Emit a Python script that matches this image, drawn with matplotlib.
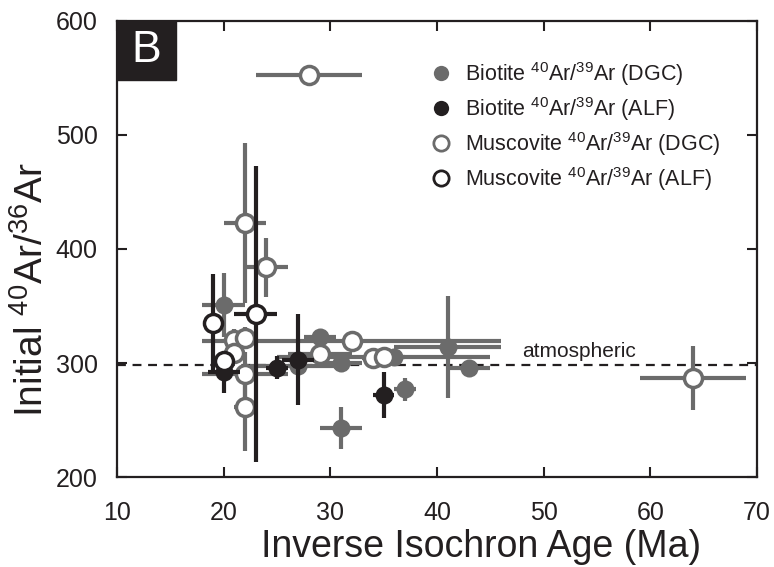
import matplotlib
matplotlib.use('Agg')
from matplotlib import pyplot as plt
from matplotlib.lines import Line2D
from matplotlib.patches import Rectangle

plt.rcParams['font.family'] = ['Liberation Sans', 'DejaVu Sans']
plt.rcParams['mathtext.fontset'] = 'custom'
plt.rcParams['mathtext.rm'] = 'Liberation Sans'
plt.rcParams['mathtext.it'] = 'Liberation Sans:italic'
plt.rcParams['mathtext.bf'] = 'Liberation Sans:bold'

gray = '#6b6b6b'
black = '#231f20'

# biotite 40Ar/39Ar (DGC)
bio_dgc_x = [20, 29, 31, 31, 36, 37, 41, 43, 27]
bio_dgc_y = [351, 323, 300, 243, 305, 277, 314, 296, 297]
bio_dgc_xerr = [2, 1.5, 2, 2, 1, 1, 5, 2, 4.5]
bio_dgc_yerr = [28, 5, 5, 18, 5, 10, 45, 3, 5]

# biotite 40Ar/39Ar (ALF)
bio_alf_x = [20, 25, 27, 35]
bio_alf_y = [292, 296, 303, 272]
bio_alf_xerr = [1.5, 1, 1.5, 1]
bio_alf_yerr = [18, 10, 40, 20]

# muscovite 40Ar/39Ar (DGC)
mus_dgc_x = [28, 22, 24, 21, 22, 21, 22, 22, 29, 32, 34, 35, 64]
mus_dgc_y = [553, 423, 384, 320, 322, 309, 290, 261, 308, 319, 304, 305, 287]
mus_dgc_xerr = [5, 2, 2, 1, 1, 1, 4, 1, 3, 14, 1, 10, 5]
mus_dgc_yerr = [0, 70, 26, 10, 10, 10, 20, 38, 5, 8, 5, 8, 28]

# muscovite 40Ar/39Ar (ALF)
mus_alf_x = [19, 20, 23]
mus_alf_y = [335, 302, 343]
mus_alf_xerr = [0.5, 0.5, 2]
mus_alf_yerr = [43, 8, 130]

atm = 298.5

fig = plt.figure(figsize=(7.74, 5.67), dpi=100)
ax = fig.add_axes([0.1512, 0.1587, 0.8268, 0.8043])

ax.axhline(atm, color=black, lw=1.6, ls=(0, (4, 3)), zorder=1)
ax.text(48, atm + 3, 'atmospheric', fontsize=15, color=black, va='bottom')

ms = 13
ax.errorbar(bio_dgc_x, bio_dgc_y, xerr=bio_dgc_xerr, yerr=bio_dgc_yerr, fmt='o',
            color=gray, ms=ms, mew=0, elinewidth=3, capsize=0, zorder=2)
ax.errorbar(mus_dgc_x, mus_dgc_y, xerr=mus_dgc_xerr, yerr=mus_dgc_yerr, fmt='o',
            color=gray, mfc='white', mec=gray, ms=ms, mew=2.5, elinewidth=3, capsize=0, zorder=3)
ax.errorbar(bio_alf_x, bio_alf_y, xerr=bio_alf_xerr, yerr=bio_alf_yerr, fmt='o',
            color=black, ms=ms, mew=0, elinewidth=3, capsize=0, zorder=4)
ax.errorbar(mus_alf_x, mus_alf_y, xerr=mus_alf_xerr, yerr=mus_alf_yerr, fmt='o',
            color=black, mfc='white', mec=black, ms=ms, mew=2.5, elinewidth=3, capsize=0, zorder=5)

ax.set_xlim(10, 70)
ax.set_ylim(200, 600)
ax.set_xticks([10, 20, 30, 40, 50, 60, 70])
ax.set_yticks([200, 300, 400, 500, 600])
ax.tick_params(direction='in', length=7, width=1.5, labelsize=18, top=True, right=True,
               colors=black)
ax.tick_params(axis='x', pad=17)
ax.tick_params(axis='y', pad=14)
for s in ax.spines.values():
    s.set_linewidth(1.6)
    s.set_color(black)

ax.set_xlabel('Inverse Isochron Age (Ma)', fontsize=27, color=black)
ax.xaxis.set_label_coords(0.569, -0.115)
ax.set_ylabel(r'Initial $^{\mathrm{40}}$Ar/$^{\mathrm{36}}$Ar', fontsize=28, color=black)
ax.yaxis.set_label_coords(-0.103, 0.41)

# panel letter
ax.add_patch(Rectangle((0, 0.871), 0.092, 0.129, transform=ax.transAxes,
                       color=black, zorder=10, clip_on=False))
ax.text(0.046, 0.935, 'B', transform=ax.transAxes, color='white', fontsize=32,
        ha='center', va='center', zorder=11)

handles = [
    Line2D([], [], ls='none', marker='o', ms=11, mfc=gray, mec=gray, mew=0),
    Line2D([], [], ls='none', marker='o', ms=11, mfc=black, mec=black, mew=0),
    Line2D([], [], ls='none', marker='o', ms=11, mfc='white', mec=gray, mew=2),
    Line2D([], [], ls='none', marker='o', ms=11, mfc='white', mec=black, mew=2),
]
labels = [
    r'Biotite $^{\mathrm{40}}$Ar/$^{\mathrm{39}}$Ar (DGC)',
    r'Biotite $^{\mathrm{40}}$Ar/$^{\mathrm{39}}$Ar (ALF)',
    r'Muscovite $^{\mathrm{40}}$Ar/$^{\mathrm{39}}$Ar (DGC)',
    r'Muscovite $^{\mathrm{40}}$Ar/$^{\mathrm{39}}$Ar (ALF)',
]
leg = ax.legend(handles, labels, loc='upper left', bbox_to_anchor=(0.49, 0.915),
                frameon=False, fontsize=15.5, handlelength=1.0, handletextpad=0.6,
                labelspacing=0.33, borderpad=0, borderaxespad=0)
for t in leg.get_texts():
    t.set_color(black)

plt.savefig('out.png', dpi=100)
